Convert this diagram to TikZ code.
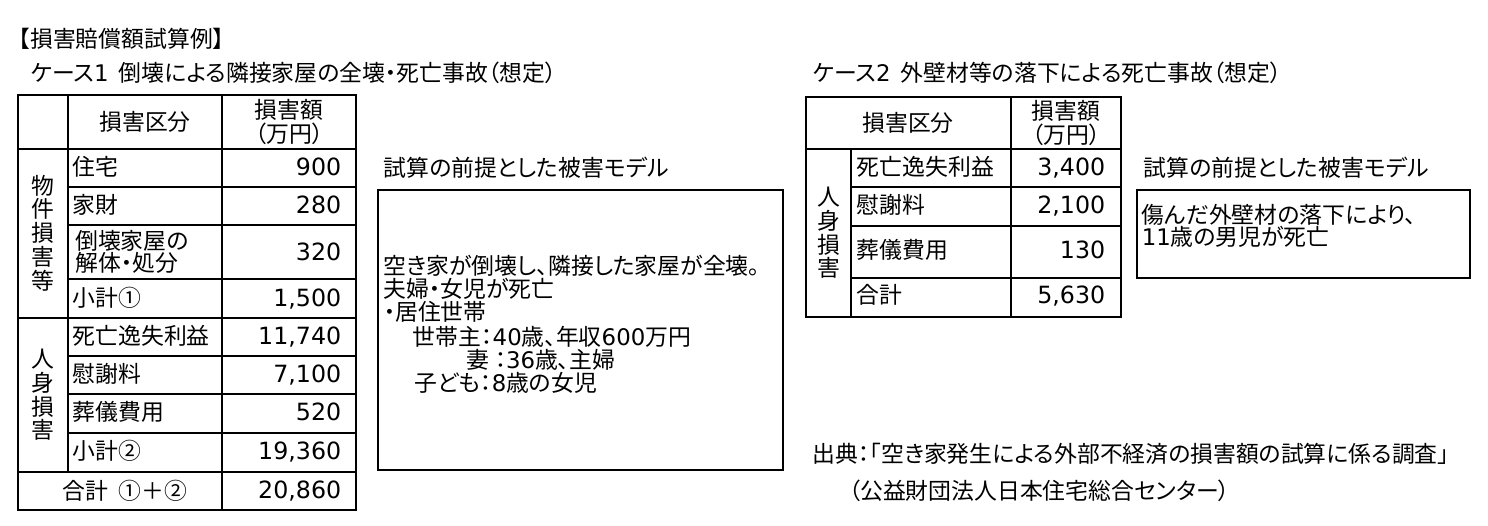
\documentclass[tikz,border=0pt]{standalone}
\usepackage{fontspec}
\setmainfont[RawFeature=+palt]{Noto Sans CJK JP}
\newfontfamily\numf{DejaVu Sans}
\usetikzlibrary{positioning}

\begin{document}
\begin{tikzpicture}[x=0.02cm, y=-0.02cm, line width=0.9pt,
    every node/.style={font=\fontsize{13pt}{13pt}\selectfont, inner sep=0pt},
    txt/.style={anchor=base west},
    num/.style={anchor=base east, font=\fontsize{13.5pt}{13pt}\selectfont\numf},
    mid/.style={anchor=center, align=center}]
\useasboundingbox (0,0) rectangle (1488,526);

% titles
\node[txt] (title) at (18,48) {【損害賠償額試算例】};
\node[txt] (case1) at (30,82) {ケース{\numf 1}\ \ 倒壊による隣接家屋の全壊・死亡事故（想定）};
\node[txt] (case2) at (812,82) {ケース{\numf 2}\ \ 外壁材等の落下による死亡事故（想定）};

% case 1 table
\draw (18,95) rectangle (356,510);
\draw (68,95) -- (68,472) (222,95) -- (222,510);
\draw (18,149) -- (356,149) (18,318) -- (356,318) (18,472) -- (356,472);
\foreach \y in {187,225,279,356,394,433}
  \draw (68,\y) -- (356,\y);
\node[mid] (h1) at (145,122) {損害区分};
\node[mid, font=\fontsize{13pt}{11.5pt}\selectfont] (h2) at (289,122) {損害額\\（万円）};
\node[mid, font=\fontsize{13pt}{13.5pt}\selectfont] (g1) at (43,233) {物\\件\\損\\害\\等};
\node[mid, font=\fontsize{13pt}{13.5pt}\selectfont] (g2) at (43,395) {人\\身\\損\\害};
\foreach \y/\a/\b in {176/住宅/900, 214/家財/280, 307/小計①/{1,500},
    345/死亡逸失利益/{11,740}, 383/慰謝料/{7,100}, 421/葬儀費用/520, 460/小計②/{19,360}}
  \node[txt] at (72,\y) {\a} node[num] at (342,\y) {\b};
\node[mid, align=left, font=\fontsize{13pt}{12.5pt}\selectfont] (r3) at (132,252) {倒壊家屋の\\解体・処分};
\node[num] (v3) at (342,261) {320};
\node[mid] (tot) at (125,491) {合計\ \ ①＋②};
\node[num] (vtot) at (342,499) {20,860};

% case 1 model
\node[txt] (m1) at (383,177) {試算の前提とした被害モデル};
\draw (378,190) rectangle (783,470);
\node[txt] at (383,275) {空き家が倒壊し、隣接した家屋が全壊。};
\node[txt] at (383,298) {夫婦・女児が死亡};
\node[txt] at (383,321) {・居住世帯};
\node[txt] at (412,346) {世帯主：{\numf 40}歳、年収{\numf 600}万円};
\node[txt] at (466,369) {妻\ ：{\numf 36}歳、主婦};
\node[txt] at (414,392) {子ども：{\numf 8}歳の女児};

% case 2 table
\draw (806,97) rectangle (1121,317);
\draw (851,149) -- (851,317) (1011,97) -- (1011,317);
\draw (806,149) -- (1121,149);
\foreach \y in {187,226,278}
  \draw (851,\y) -- (1121,\y);
\node[mid] (k1) at (908,123) {損害区分};
\node[mid, font=\fontsize{13pt}{11.5pt}\selectfont] (k2) at (1066,123) {損害額\\（万円）};
\node[mid, font=\fontsize{13pt}{13.5pt}\selectfont] (k3) at (829,233) {人\\身\\損\\害};
\foreach \y/\a/\b in {176/死亡逸失利益/{3,400}, 214/慰謝料/{2,100}, 259/葬儀費用/130, 304/合計/{5,630}}
  \node[txt] at (856,\y) {\a} node[num] at (1106,\y) {\b};

% case 2 model
\node[txt] (m2) at (1143,177) {試算の前提とした被害モデル};
\draw (1137,190) rectangle (1470,278);
\node[txt] at (1141,224) {傷んだ外壁材の落下により、};
\node[txt] at (1141,246) {{\numf 11}歳の男児が死亡};

% source
\node[txt] (src) at (812,463) {出典：「空き家発生による外部不経済の損害額の試算に係る調査」};
\node[txt] (src2) at (848,500) {（公益財団法人日本住宅総合センター）};
\end{tikzpicture}
\end{document}
